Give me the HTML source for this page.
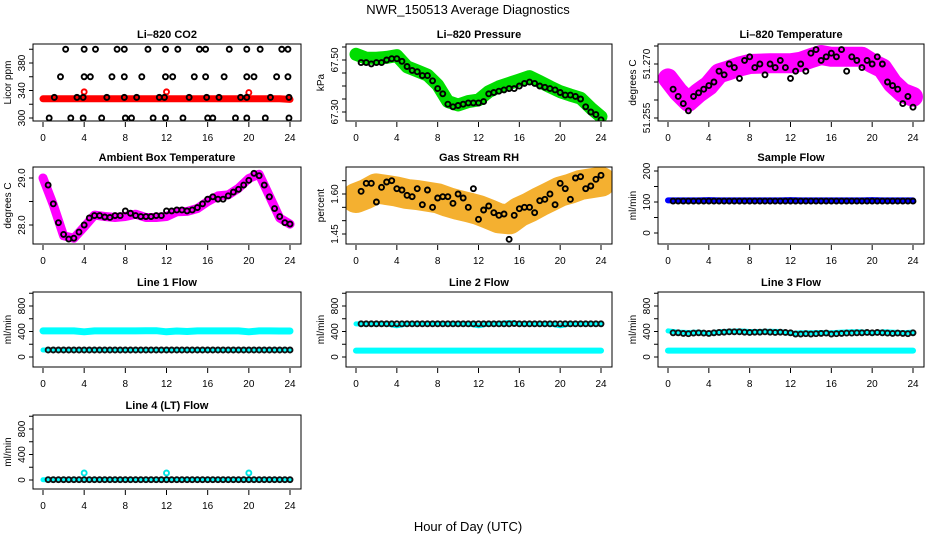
<!DOCTYPE html>
<html><head><meta charset="utf-8"><style>
html,body{margin:0;padding:0;background:#fff;}
svg{display:block;font-family:"Liberation Sans",Arial,sans-serif;}
</style></head><body>
<svg id="chart" width="936" height="540" viewBox="0 0 936 540" xmlns="http://www.w3.org/2000/svg">
<rect x="0" y="0" width="936" height="540" fill="#fff"/>
<text x="468" y="14" text-anchor="middle" font-size="13">NWR_150513  Average Diagnostics</text>
<text x="468" y="531" text-anchor="middle" font-size="13">Hour of Day (UTC)</text>
</svg>
<script>
const hoursB = [0.5,1,1.5,2,2.5,3,3.5,4,4.5,5,5.5,6,6.5,7,7.5,8,8.5,9,9.5,10,10.5,11,11.5,12,12.5,13,13.5,14,14.5,15,15.5,16,16.5,17,17.5,18,18.5,19,19.5,20,20.5,21,21.5,22,22.5,23,23.5,24];
const hoursH = [0,1,2,3,4,5,6,7,8,9,10,11,12,13,14,15,16,17,18,19,20,21,22,23,24];
const xTicks = [0,4,8,12,16,20,24];

// CO2
const co2T = [2.2,4.0,5.1,7.2,7.9,10.2,11.9,13.1,15.2,15.8,18.1,19.8,21.1,23.2,23.8, 1.7,4.0,4.6,6.7,7.9,9.6,11.9,12.6,14.7,15.8,17.6,19.8,20.5,22.7,23.8, 1.1,3.3,3.9,6.2,7.9,9.1,11.3,11.8,14.2,15.9,17.1,19.2,19.8,22.1,23.9, 0.6,2.7,3.9,5.7,8.0,8.6,10.7,11.9,13.6,16.0,16.5,18.7,19.8,21.6,23.9];
const co2V = [400,400,400,400,400,400,400,400,400,400,400,400,400,400,400, 360,360,360,360,360,360,360,360,360,360,360,360,360,360,360, 330,330,330,330,330,330,330,330,330,330,330,330,330,330,330, 300,300,300,300,300,300,300,300,300,300,300,300,300,300,300];
const co2Band = [328,328,328,328,328,328,328,328,328,328,328,328,328,328,328,328,328,328,328,328,328,328,328,328,327];
const co2SpikeT = [4,12,20];
const co2SpikeV = [338,338,337];

// Pressure
const presBand = [67.522,67.507,67.507,67.51,67.517,67.474,67.458,67.442,67.404,67.34,67.327,67.34,67.346,67.378,67.397,67.41,67.423,67.436,67.417,67.397,67.378,67.365,67.353,67.315,67.282];
const presBlack = [67.49,67.49,67.485,67.49,67.49,67.50,67.505,67.505,67.495,67.475,67.46,67.455,67.44,67.44,67.42,67.39,67.37,67.33,67.32,67.325,67.33,67.335,67.335,67.335,67.34,67.37,67.375,67.38,67.385,67.39,67.39,67.40,67.41,67.415,67.41,67.40,67.395,67.39,67.385,67.375,67.365,67.365,67.36,67.35,67.32,67.30,67.29,67.27];

// Li-820 temperature
const tempBand = [51.266,51.2623,51.2595,51.262,51.264,51.2674,51.2683,51.2693,51.27,51.2701,51.2702,51.2702,51.2702,51.2706,51.2716,51.2725,51.272,51.272,51.272,51.272,51.2702,51.2688,51.2646,51.262,51.2609];
const tempBlack = [51.263,51.261,51.259,51.257,51.261,51.262,51.263,51.264,51.265,51.268,51.267,51.27,51.269,51.266,51.271,51.272,51.269,51.27,51.267,51.27,51.269,51.271,51.269,51.266,51.268,51.27,51.268,51.273,51.274,51.271,51.272,51.273,51.272,51.274,51.268,51.272,51.271,51.269,51.271,51.27,51.272,51.27,51.265,51.264,51.263,51.259,51.261,51.258];

// Ambient box temperature
const ambBand = [29.0,28.43,27.77,27.72,27.96,28.21,28.18,28.16,28.18,28.23,28.16,28.16,28.18,28.28,28.29,28.35,28.5,28.62,28.64,28.78,28.99,29.08,28.62,28.15,28.02];
const ambBlack = [28.85,28.45,28.05,27.8,27.7,27.72,27.85,28.0,28.15,28.2,28.2,28.17,28.16,28.2,28.2,28.3,28.25,28.2,28.18,28.18,28.18,28.2,28.2,28.3,28.3,28.32,28.32,28.3,28.32,28.37,28.45,28.55,28.6,28.55,28.55,28.62,28.7,28.76,28.85,28.95,29.1,29.05,28.85,28.6,28.35,28.18,28.05,28.02];

// Gas stream RH
const rhBand = [1.585,1.60,1.621,1.615,1.609,1.60,1.596,1.59,1.584,1.57,1.559,1.55,1.54,1.525,1.509,1.505,1.533,1.55,1.571,1.59,1.609,1.62,1.634,1.64,1.646];
const rhBlack = [1.61,1.64,1.64,1.57,1.625,1.645,1.65,1.62,1.615,1.595,1.59,1.62,1.56,1.615,1.55,1.585,1.59,1.59,1.565,1.60,1.585,1.55,1.62,1.505,1.54,1.555,1.53,1.52,1.525,1.43,1.52,1.545,1.55,1.55,1.53,1.575,1.58,1.60,1.56,1.64,1.62,1.58,1.66,1.665,1.62,1.63,1.655,1.67];

// Sample flow
const sampleBand = [105,105,105,105,106,105,105,105,105,105,105,105,106,105,105,105,105,105,105,105,106,105,105,105,105];
const sampleBlack = [103,103,103,103,103,103,103,103,103,103,103,103,103,103,103,103,103,103,103,103,103,103,103,103,103,103,103,103,103,103,103,103,103,103,103,103,103,103,103,103,103,103,103,103,103,103,103,103];

// Line flows
const line1High = [410,410,410,410,395,410,410,410,410,410,412,412,395,408,400,410,410,410,410,410,395,410,410,408,408];
const line1Low = [110,110,110,110,110,110,110,110,110,110,110,110,110,110,110,110,110,110,110,110,110,110,110,110,110];
const line1Black = [110,110,110,110,110,110,110,110,110,110,110,110,110,110,110,110,110,110,110,110,110,110,110,110,110,110,110,110,110,110,110,110,110,110,110,110,110,110,110,110,110,110,110,110,110,110,110,110];
const line2High = [520,520,520,520,490,520,520,520,525,520,520,520,490,520,525,540,520,520,520,520,490,520,520,520,520];
const line2Low = [100,100,100,100,100,100,100,100,100,100,100,100,100,100,100,100,100,100,100,100,100,100,100,100,100];
const line2Black = [520,520,520,520,520,520,520,520,520,520,520,520,520,520,520,520,520,520,520,520,520,520,520,520,520,520,520,520,520,520,525,520,520,520,520,520,520,520,520,520,520,520,520,520,520,520,520,520];
const line3High = [410,390,385,390,370,395,405,410,400,400,405,400,370,380,380,385,380,390,395,395,375,395,390,380,390];
const line3Low = [100,100,100,100,100,100,100,100,100,100,100,100,100,100,100,100,100,100,100,100,100,100,100,100,100];
const line3Black = [380,380,370,365,375,380,375,370,380,385,390,395,395,395,390,385,390,390,395,390,385,390,385,380,360,360,365,360,365,370,375,360,365,370,375,375,380,380,385,380,385,380,375,370,375,370,365,380];
const line4Low = [5,5,5,5,5,5,5,5,5,5,5,5,5,5,5,5,5,5,5,5,5,5,5,5,5];
const line4Black = [5,5,5,5,5,5,5,5,5,5,5,5,5,5,5,5,5,5,5,5,5,5,5,5,5,5,5,5,5,5,5,5,5,5,5,5,5,5,5,5,5,5,5,5,5,5,5,5];
const line4SpikeT = [4,12,20];
const line4SpikeV = [110,110,110];

const NS = 'http://www.w3.org/2000/svg';
const svg = document.getElementById('chart');
function mk(tag, attrs, parent){ const e=document.createElementNS(NS,tag); for(const k in attrs) e.setAttribute(k,attrs[k]); (parent||svg).appendChild(e); return e; }
function lin(v1,y1,v2,y2){ return v => y1 + (v-v1)*(y2-y1)/(v2-v1); }

const cols = [{l:33,r:301,x0:43,x24:290},{l:346,r:612,x0:356,x24:601},{l:658,r:924,x0:668,x24:913}];
const rows = [{t:44,b:121},{t:167,b:244},{t:292,b:367},{t:415,b:489}];

function panel(name, title, ci, ri, yfn, yTicks, yLabels, yTitle){
  const c=cols[ci], r=rows[ri];
  const g = mk('g',{});
  
  
  const xs = h => c.x0 + h*(c.x24-c.x0)/24;
  const t = mk('text',{x:(c.l+c.r)/2, y:r.t-6, 'text-anchor':'middle','font-size':'11','font-weight':'bold'}, g);
  t.textContent = title;
  
  
  const clip = 'clip'+ci+ri;
  const cp = mk('clipPath',{id:clip}, g);
  mk('rect',{x:c.l,y:r.t,width:c.r-c.l,height:r.b-r.t}, cp);
  const plot = mk('g',{'clip-path':'url(#'+clip+')'}, g);
  
  
  const box = mk('rect',{x:c.l,y:r.t,width:c.r-c.l,height:r.b-r.t,fill:'none',stroke:'#000','stroke-width':1}, g);
  
  
  xTicks.forEach(v=>{
    const x=xs(v);
    mk('line',{x1:x,x2:x,y1:r.b+1,y2:r.b+6,stroke:'#000'}, g);
    const tl = mk('text',{x:x,y:r.b+20,'text-anchor':'middle','font-size':'10'}, g);
    tl.textContent = v;
    
    
  });
  yTicks.forEach(v=>{
    const y=yfn(v);
    mk('line',{x1:c.l-4,x2:c.l,y1:y,y2:y,stroke:'#000'}, g);
  });
  yLabels.forEach(([v,s])=>{
    const y=yfn(v), x=c.l-8;
    const tl = mk('text',{x:x,y:y,'text-anchor':'middle','font-size':'10',transform:'rotate(-90 '+x+' '+y+')'}, g);
    tl.textContent = s;
    
    
  });
  const yx = c.l-22, yy=(r.t+r.b)/2;
  const yt = mk('text',{x:yx,y:yy,'text-anchor':'middle','font-size':'10',transform:'rotate(-90 '+yx+' '+yy+')'}, g);
  yt.textContent = yTitle;
  
  
  return {plot, xs, yfn};
}
function band(p, hs, vals, color, w, name){
  const n=Math.min(hs.length, vals.length);
  const pts=[]; for(let i=0;i<n;i++) pts.push(p.xs(hs[i]).toFixed(1)+','+p.yfn(vals[i]).toFixed(1));
  const e = mk('polyline',{points:pts.join(' '),fill:'none',stroke:color,'stroke-width':w,'stroke-linejoin':'round','stroke-linecap':'round'}, p.plot);
  
  
}
function pts(p, hs, vals, color, name, r){
  const n=Math.min(hs.length, vals.length);
  for(let i=0;i<n;i++){
    const e = mk('circle',{cx:p.xs(hs[i]),cy:p.yfn(vals[i]),r:r||2.5,fill:'none',stroke:color,'stroke-width':1.9}, p.plot);
    
    
  }
}

let p;
p = panel('co2-panel','Li\u2013820 CO2',0,0,lin(300,118,340,90.5),[300,320,340,360,380,400],[[300,'300'],[340,'340'],[380,'380']],'Licor ppm');
band(p,hoursH,co2Band,'#ff0000',7,'co2-red-band');
pts(p,co2SpikeT,co2SpikeV,'#ff0000','co2-red-point');
pts(p,co2T,co2V,'#000','co2-black-point');

p = panel('pressure-panel','Li\u2013820 Pressure',1,0,lin(67.50,60,67.30,112),[67.30,67.35,67.40,67.45,67.50,67.55],[[67.30,'67.30'],[67.50,'67.50']],'kPa');
band(p,hoursH,presBand,'#00dd00',13,'pressure-green-band');
pts(p,hoursB,presBlack,'#000','pressure-black-point');

p = panel('temperature-panel','Li\u2013820 Temperature',2,0,lin(51.255,118,51.270,64),[51.255,51.26,51.265,51.27,51.275],[[51.255,'51.255'],[51.270,'51.270']],'degrees C');
band(p,hoursH,tempBand,'#ff00ff',20,'temperature-magenta-band');
pts(p,hoursB,tempBlack,'#000','temperature-black-point');

p = panel('ambient-panel','Ambient Box Temperature',0,1,lin(29,178,28,225),[28.0,28.5,29.0],[[28.0,'28.0'],[29.0,'29.0']],'degrees C');
band(p,hoursH,ambBand,'#ff00ff',9,'ambient-magenta-band');
pts(p,hoursB,ambBlack,'#000','ambient-black-point');

p = panel('rh-panel','Gas Stream RH',1,1,lin(1.60,194,1.45,234),[1.45,1.50,1.55,1.60,1.65],[[1.45,'1.45'],[1.60,'1.60']],'percent');
band(p,hoursH,rhBand,'#f4b030',30,'rh-orange-band');
pts(p,hoursB,rhBlack,'#000','rh-black-point');

p = panel('sample-flow-panel','Sample Flow',2,1,lin(0,233,200,171),[0,50,100,150,200],[[0,'0'],[100,'100'],[200,'200']],'ml/min');
band(p,hoursH,sampleBand,'#0000ff',6,'sample-blue-band');
pts(p,hoursB,sampleBlack,'#000','sample-black-point');

const fTicks=[0,200,400,600,800,1000], fLabels=[[0,'0'],[400,'400'],[800,'800']];
p = panel('line1-flow-panel','Line 1 Flow',0,2,lin(0,357,800,306),fTicks,fLabels,'ml/min');
band(p,hoursH,line1High,'#00ffff',7,'line1-cyan-high');
band(p,hoursH,line1Low,'#00ffff',5,'line1-cyan-low');
pts(p,hoursB,line1Black,'#111','line1-black-point');

p = panel('line2-flow-panel','Line 2 Flow',1,2,lin(0,357,800,306),fTicks,fLabels,'ml/min');
band(p,hoursH,line2Low,'#00ffff',6,'line2-cyan-low');
band(p,hoursH,line2High,'#00ffff',5,'line2-cyan-high');
pts(p,hoursB,line2Black,'#111','line2-black-point');

p = panel('line3-flow-panel','Line 3 Flow',2,2,lin(0,357,800,306),fTicks,fLabels,'ml/min');
band(p,hoursH,line3Low,'#00ffff',6,'line3-cyan-low');
band(p,hoursH,line3High,'#00ffff',5,'line3-cyan-high');
pts(p,hoursB,line3Black,'#111','line3-black-point');

p = panel('line4-flow-panel','Line 4 (LT) Flow',0,3,lin(0,480,800,429),fTicks,fLabels,'ml/min');
band(p,hoursH,line4Low,'#00ffff',5,'line4-cyan-band');
pts(p,line4SpikeT,line4SpikeV,'#00e5e5','line4-cyan-point');
pts(p,hoursB,line4Black,'#111','line4-black-point');
</script>
</body></html>
